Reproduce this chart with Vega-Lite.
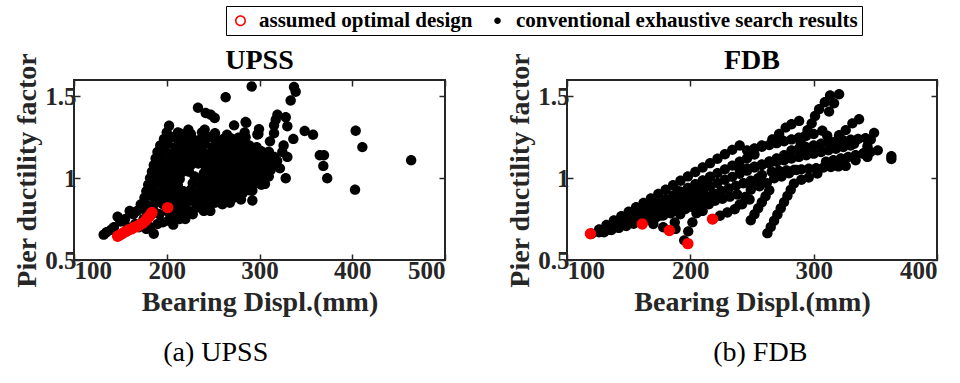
{
"$schema": "https://vega.github.io/schema/vega-lite/v6.json",
"background": "white",
"padding": {"left": 12, "top": 5, "right": 10, "bottom": 5},
"spacing": 58,
"datasets": {
"upss_b": [
{"x":132,"y":0.655},{"x":135,"y":0.67},{"x":140,"y":0.685},{"x":143,"y":0.70},{"x":147,"y":0.765},{"x":150,"y":0.735},{"x":155,"y":0.75},{"x":158,"y":0.70},{"x":160,"y":0.80},{"x":164,"y":0.78},{"x":166,"y":0.72},{"x":170,"y":0.70},{"x":172,"y":0.84},{"x":175,"y":0.75},{"x":178,"y":0.69},{"x":182,"y":0.70},{"x":186,"y":0.66},{"x":190,"y":0.72},{"x":196,"y":0.73},{"x":202,"y":0.74},{"x":207,"y":0.716},{"x":214,"y":0.75},{"x":220,"y":0.77},{"x":186,"y":0.80},{"x":192,"y":0.78},{"x":247,"y":0.80},
{"x":204,"y":0.76},{"x":212,"y":0.77},{"x":220,"y":0.75},{"x":228,"y":0.78},
{"x":168,"y":0.80},{"x":176,"y":0.81},{"x":184,"y":0.79},{"x":200,"y":0.80},{"x":208,"y":0.81},{"x":216,"y":0.79},{"x":224,"y":0.80},{"x":232,"y":0.82},{"x":240,"y":0.80},
{"x":176,"y":0.84},{"x":180,"y":0.83},{"x":188,"y":0.85},{"x":196,"y":0.84},{"x":204,"y":0.85},{"x":212,"y":0.83},{"x":220,"y":0.84},{"x":228,"y":0.86},{"x":236,"y":0.84},{"x":244,"y":0.83},{"x":252,"y":0.85},{"x":260,"y":0.84},{"x":268,"y":0.85},
{"x":176,"y":0.88},{"x":184,"y":0.89},{"x":192,"y":0.87},{"x":200,"y":0.885},{"x":208,"y":0.875},{"x":216,"y":0.88},{"x":224,"y":0.89},{"x":232,"y":0.87},{"x":240,"y":0.88},{"x":248,"y":0.885},{"x":256,"y":0.875},{"x":264,"y":0.89},{"x":272,"y":0.88},{"x":280,"y":0.87},
{"x":178,"y":0.92},{"x":186,"y":0.93},{"x":194,"y":0.91},{"x":202,"y":0.925},{"x":210,"y":0.915},{"x":218,"y":0.92},{"x":226,"y":0.93},{"x":234,"y":0.91},{"x":242,"y":0.92},{"x":250,"y":0.925},{"x":258,"y":0.915},{"x":266,"y":0.93},{"x":274,"y":0.92},{"x":282,"y":0.91},{"x":290,"y":0.925},
{"x":180,"y":0.96},{"x":188,"y":0.97},{"x":196,"y":0.95},{"x":204,"y":0.965},{"x":212,"y":0.955},{"x":228,"y":0.97},{"x":236,"y":0.95},{"x":244,"y":0.96},{"x":252,"y":0.965},{"x":260,"y":0.955},{"x":268,"y":0.97},{"x":276,"y":0.96},{"x":284,"y":0.95},{"x":294,"y":0.965},{"x":302,"y":0.96},
{"x":182,"y":1.0},{"x":190,"y":1.01},{"x":198,"y":0.99},{"x":206,"y":1.005},{"x":214,"y":0.995},{"x":230,"y":1.01},{"x":238,"y":0.99},{"x":246,"y":1.0},{"x":254,"y":1.005},{"x":262,"y":0.995},{"x":270,"y":1.01},{"x":278,"y":1.0},{"x":286,"y":0.99},{"x":294,"y":1.005},{"x":302,"y":1.0},{"x":310,"y":1.01},
{"x":184,"y":1.04},{"x":192,"y":1.05},{"x":200,"y":1.03},{"x":208,"y":1.045},{"x":216,"y":1.035},{"x":224,"y":1.04},{"x":240,"y":1.03},{"x":248,"y":1.04},{"x":256,"y":1.045},{"x":264,"y":1.035},{"x":272,"y":1.05},{"x":280,"y":1.04},{"x":288,"y":1.03},{"x":296,"y":1.045},{"x":304,"y":1.04},{"x":312,"y":1.05},
{"x":186,"y":1.08},{"x":194,"y":1.09},{"x":202,"y":1.07},{"x":210,"y":1.085},{"x":218,"y":1.075},{"x":226,"y":1.08},{"x":234,"y":1.09},{"x":242,"y":1.07},{"x":250,"y":1.08},{"x":258,"y":1.085},{"x":266,"y":1.075},{"x":274,"y":1.09},{"x":282,"y":1.08},{"x":290,"y":1.07},{"x":298,"y":1.085},{"x":306,"y":1.08},{"x":314,"y":1.09},
{"x":188,"y":1.12},{"x":196,"y":1.13},{"x":204,"y":1.11},{"x":212,"y":1.125},{"x":220,"y":1.115},{"x":228,"y":1.12},{"x":236,"y":1.13},{"x":244,"y":1.11},{"x":252,"y":1.12},{"x":260,"y":1.125},{"x":268,"y":1.115},{"x":276,"y":1.13},{"x":284,"y":1.12},{"x":292,"y":1.11},{"x":300,"y":1.125},{"x":308,"y":1.12},{"x":316,"y":1.13},
{"x":190,"y":1.16},{"x":198,"y":1.17},{"x":206,"y":1.15},{"x":214,"y":1.165},{"x":222,"y":1.155},{"x":230,"y":1.16},{"x":238,"y":1.17},{"x":246,"y":1.15},{"x":254,"y":1.16},{"x":262,"y":1.165},{"x":270,"y":1.155},{"x":278,"y":1.17},{"x":286,"y":1.16},{"x":294,"y":1.15},{"x":302,"y":1.165},{"x":310,"y":1.16},
{"x":193,"y":1.2},{"x":201,"y":1.21},{"x":209,"y":1.19},{"x":217,"y":1.205},{"x":225,"y":1.195},{"x":233,"y":1.2},{"x":241,"y":1.21},{"x":249,"y":1.19},{"x":257,"y":1.2},{"x":265,"y":1.205},{"x":273,"y":1.195},{"x":281,"y":1.21},{"x":289,"y":1.2},{"x":297,"y":1.19},
{"x":197,"y":1.24},{"x":205,"y":1.25},{"x":213,"y":1.23},{"x":221,"y":1.245},{"x":229,"y":1.235},{"x":237,"y":1.24},{"x":245,"y":1.25},{"x":253,"y":1.23},{"x":261,"y":1.24},{"x":269,"y":1.245},{"x":277,"y":1.235},{"x":285,"y":1.25},
{"x":200,"y":1.28},{"x":212,"y":1.28},{"x":226,"y":1.27},{"x":238,"y":1.28},{"x":252,"y":1.275},{"x":265,"y":1.266},{"x":284,"y":1.28},
{"x":291.6,"y":1.56},{"x":263.5,"y":1.495},{"x":233.7,"y":1.43},{"x":242,"y":1.398},{"x":247.4,"y":1.388},{"x":251.7,"y":1.368},{"x":285.8,"y":1.338},{"x":272.6,"y":1.323},{"x":202.5,"y":1.321},{"x":223.3,"y":1.297},{"x":240.9,"y":1.297},{"x":215,"y":1.272},{"x":277.2,"y":1.248},
{"x":337.2,"y":1.557},{"x":339,"y":1.528},{"x":333.6,"y":1.475},{"x":319.3,"y":1.388},{"x":317.5,"y":1.357},{"x":328.3,"y":1.372},{"x":330,"y":1.317},{"x":315.7,"y":1.323},{"x":298.8,"y":1.27},{"x":299.5,"y":1.3},{"x":315.7,"y":1.275},{"x":311.3,"y":1.225},{"x":348.7,"y":1.288},{"x":357.7,"y":1.265},{"x":336.5,"y":1.24},
{"x":403.7,"y":1.29},{"x":410.9,"y":1.19},{"x":463.5,"y":1.11},{"x":365,"y":1.14},{"x":369.5,"y":1.14},{"x":368.8,"y":1.075},{"x":373,"y":1.0},{"x":403,"y":0.93},{"x":328.3,"y":1.0},{"x":305.9,"y":0.965},{"x":292.3,"y":0.925},{"x":292.3,"y":0.864},{"x":330,"y":1.13},{"x":324.6,"y":1.16},{"x":319,"y":1.105},{"x":310,"y":1.16},{"x":307.7,"y":1.10},{"x":285,"y":1.344},{"x":297.7,"y":1.267},{"x":283,"y":1.19},{"x":322,"y":1.06},{"x":326,"y":1.2}
],
"upss_r": [
{"x":147,"y":0.645},{"x":150,"y":0.655},{"x":153,"y":0.665},{"x":156,"y":0.675},{"x":159,"y":0.685},{"x":162,"y":0.69},{"x":165,"y":0.70},{"x":168,"y":0.705},{"x":171,"y":0.715},{"x":174,"y":0.725},{"x":177,"y":0.74},{"x":179,"y":0.755},{"x":181,"y":0.765},{"x":183,"y":0.78},{"x":184,"y":0.79},{"x":201,"y":0.82}
],
"fdb_b": [
{"x":120,"y":0.66},{"x":126,"y":0.687},{"x":132,"y":0.714},{"x":138,"y":0.741},{"x":144,"y":0.768},{"x":150,"y":0.795},{"x":156,"y":0.822},{"x":162,"y":0.849},{"x":168,"y":0.876},{"x":174,"y":0.903},{"x":180,"y":0.93},{"x":186,"y":0.957},{"x":192,"y":0.984},{"x":198,"y":1.011},{"x":204,"y":1.038},{"x":210,"y":1.065},{"x":216,"y":1.092},{"x":222,"y":1.119},{"x":228,"y":1.146},{"x":234,"y":1.173},{"x":240,"y":1.2},
{"x":132,"y":0.69},{"x":138,"y":0.713},{"x":144,"y":0.736},{"x":150,"y":0.758},{"x":156,"y":0.781},{"x":162,"y":0.804},{"x":168,"y":0.827},{"x":174,"y":0.849},{"x":180,"y":0.872},{"x":186,"y":0.895},{"x":192,"y":0.918},{"x":198,"y":0.94},{"x":204,"y":0.963},{"x":210,"y":0.986},{"x":216,"y":1.009},{"x":222,"y":1.031},{"x":228,"y":1.054},{"x":234,"y":1.077},{"x":240,"y":1.1},{"x":246,"y":1.122},{"x":252,"y":1.145},
{"x":126,"y":0.67},{"x":132,"y":0.689},{"x":138,"y":0.708},{"x":144,"y":0.726},{"x":150,"y":0.745},{"x":156,"y":0.764},{"x":162,"y":0.783},{"x":168,"y":0.802},{"x":174,"y":0.82},{"x":180,"y":0.839},{"x":186,"y":0.858},{"x":192,"y":0.877},{"x":198,"y":0.896},{"x":204,"y":0.914},{"x":210,"y":0.933},{"x":216,"y":0.952},{"x":222,"y":0.971},{"x":228,"y":0.99},{"x":234,"y":1.008},{"x":240,"y":1.027},{"x":246,"y":1.046},{"x":252,"y":1.065},{"x":258,"y":1.084},{"x":264,"y":1.102},{"x":270,"y":1.121},{"x":276,"y":1.14},
{"x":135,"y":0.685},{"x":141,"y":0.701},{"x":147,"y":0.717},{"x":153,"y":0.732},{"x":159,"y":0.748},{"x":165,"y":0.764},{"x":171,"y":0.78},{"x":177,"y":0.795},{"x":183,"y":0.811},{"x":189,"y":0.827},{"x":195,"y":0.843},{"x":201,"y":0.858},{"x":207,"y":0.874},{"x":213,"y":0.89},{"x":219,"y":0.906},{"x":225,"y":0.921},{"x":231,"y":0.937},{"x":237,"y":0.953},{"x":243,"y":0.969},{"x":249,"y":0.984},{"x":255,"y":1.0},
{"x":130,"y":0.67},{"x":136,"y":0.683},{"x":142,"y":0.696},{"x":148,"y":0.708},{"x":154,"y":0.721},{"x":160,"y":0.734},{"x":166,"y":0.747},{"x":172,"y":0.759},{"x":178,"y":0.772},{"x":184,"y":0.785},{"x":190,"y":0.798},{"x":196,"y":0.811},{"x":202,"y":0.823},{"x":208,"y":0.836},{"x":214,"y":0.849},{"x":220,"y":0.862},{"x":226,"y":0.874},{"x":232,"y":0.887},{"x":238,"y":0.9},
{"x":183,"y":0.68},{"x":187.4,"y":0.73},{"x":191.8,"y":0.78},{"x":196.2,"y":0.83},{"x":200.6,"y":0.88},{"x":205,"y":0.93},
{"x":195,"y":0.62},{"x":198.3,"y":0.675},{"x":201.7,"y":0.73},{"x":205,"y":0.785},{"x":208.3,"y":0.84},{"x":211.7,"y":0.895},{"x":215,"y":0.95},
{"x":170,"y":0.72},{"x":175,"y":0.77},{"x":180,"y":0.82},{"x":185,"y":0.87},{"x":190,"y":0.92},{"x":178,"y":0.70},{"x":188,"y":0.69},
{"x":218,"y":0.75},{"x":224,"y":0.77},{"x":230,"y":0.79},{"x":236,"y":0.81},{"x":242,"y":0.84},{"x":248,"y":0.87},
{"x":210,"y":0.80},{"x":215,"y":0.84},{"x":220,"y":0.88},{"x":225,"y":0.92},
{"x":240,"y":0.84},{"x":244.5,"y":0.885},{"x":249,"y":0.93},{"x":253.5,"y":0.975},{"x":258,"y":1.02},
{"x":249,"y":0.743},{"x":252,"y":0.78},{"x":255,"y":0.816},{"x":258,"y":0.853},{"x":261,"y":0.89},{"x":264,"y":0.926},
{"x":262.5,"y":0.664},{"x":265.2,"y":0.702},{"x":267.9,"y":0.74},{"x":270.6,"y":0.778},{"x":273.3,"y":0.816},{"x":276,"y":0.854},{"x":278.7,"y":0.892},{"x":281.4,"y":0.93},{"x":284,"y":0.967},{"x":290,"y":0.99},{"x":296,"y":1.004},{"x":303,"y":1.029},
{"x":256,"y":0.95},{"x":262,"y":0.97},{"x":268,"y":1.0},{"x":274,"y":1.01},{"x":280,"y":1.03},{"x":286,"y":1.05},
{"x":240,"y":1.05},{"x":246,"y":1.06},{"x":252,"y":1.07},{"x":258,"y":1.08},{"x":264,"y":1.09},{"x":270,"y":1.10},{"x":276,"y":1.11},{"x":282,"y":1.12},{"x":288,"y":1.13},{"x":294,"y":1.14},{"x":300,"y":1.15},{"x":306,"y":1.16},{"x":312,"y":1.17},{"x":318,"y":1.18},{"x":324,"y":1.19},{"x":330,"y":1.2},
{"x":246,"y":1.17},{"x":252,"y":1.181},{"x":258,"y":1.192},{"x":264,"y":1.203},{"x":270,"y":1.214},{"x":276,"y":1.226},{"x":282,"y":1.237},{"x":288,"y":1.248},{"x":294,"y":1.259},{"x":300,"y":1.27},
{"x":266,"y":1.04},{"x":272,"y":1.044},{"x":278,"y":1.047},{"x":284,"y":1.051},{"x":290,"y":1.054},{"x":296,"y":1.058},{"x":302,"y":1.061},{"x":308,"y":1.065},{"x":314,"y":1.068},{"x":320,"y":1.072},{"x":326,"y":1.075},
{"x":282,"y":1.17},{"x":288,"y":1.18},{"x":294,"y":1.19},{"x":300,"y":1.2},{"x":306,"y":1.21},{"x":312,"y":1.22},{"x":318,"y":1.225},{"x":324,"y":1.23},{"x":330,"y":1.235},{"x":336,"y":1.24},{"x":342,"y":1.245},
{"x":310,"y":1.1},{"x":316,"y":1.11},{"x":322,"y":1.12},{"x":328,"y":1.13},{"x":334,"y":1.14},{"x":340,"y":1.15},{"x":346,"y":1.16},{"x":352,"y":1.17},
{"x":289.5,"y":1.213},{"x":292.2,"y":1.253},{"x":295,"y":1.294},{"x":298.4,"y":1.335},{"x":301.1,"y":1.38},{"x":304.4,"y":1.421},{"x":309,"y":1.464},{"x":313.3,"y":1.505},
{"x":312.5,"y":1.407},{"x":316.5,"y":1.458},{"x":320.6,"y":1.513},
{"x":288.2,"y":1.35},{"x":277.3,"y":1.309},{"x":282,"y":1.33},{"x":266.5,"y":1.237},{"x":273,"y":1.24},{"x":272,"y":1.27},{"x":258,"y":1.2},{"x":307,"y":1.29},{"x":311,"y":1.26},
{"x":313.8,"y":1.222},{"x":320.6,"y":1.263},{"x":326,"y":1.294},{"x":331.4,"y":1.335},{"x":336.8,"y":1.36},
{"x":340.9,"y":1.154},{"x":343.6,"y":1.195},{"x":346.3,"y":1.236},{"x":349,"y":1.277},
{"x":334,"y":1.11},{"x":343.6,"y":1.13},{"x":332.8,"y":1.21},
{"x":363,"y":1.117},{"x":363,"y":1.135}
],
"fdb_r": [
{"x":119,"y":0.66},{"x":161,"y":0.72},{"x":183,"y":0.68},{"x":198,"y":0.60},{"x":218,"y":0.75}
]
},
"hconcat": [
{
"title": {"text": "(a) UPSS", "orient": "bottom", "anchor": "middle", "dx": -14, "fontWeight": "normal", "fontSize": 28, "offset": 22},
"vconcat": [
{
"width": 371, "height": 180,
"title": {"text": "UPSS", "offset": -22},
"layer": [
{"data": {"name": "upss_b"}, "mark": {"type": "point", "filled": true, "size": 300, "opacity": 1},
"encoding": {
"x": {"field": "x", "type": "quantitative", "scale": {"domain": [100, 500], "nice": false, "zero": false}, "axis": {"orient": "bottom", "values": [100, 200, 300, 400, 500], "title": "Bearing Displ.(mm)"}},
"y": {"field": "y", "type": "quantitative", "scale": {"domain": [0.5, 1.6], "nice": false, "zero": false}, "axis": {"orient": "left", "values": [0.5, 1, 1.5], "format": "~g", "title": "Pier ductility factor", "titlePadding": 3}},
"color": {"datum": "conventional exhaustive search results", "type": "nominal", "scale": {"domain": ["assumed optimal design", "conventional exhaustive search results"], "range": ["#ff0000", "#000000"]}, "legend": {"title": null}},
"shape": {"datum": "conventional exhaustive search results", "type": "nominal", "scale": {"domain": ["assumed optimal design", "conventional exhaustive search results"], "range": ["M 1 0 A 1 1 0 1 1 -1 0 A 1 1 0 1 1 1 0 Z M 0.72 0 A 0.72 0.72 0 1 0 -0.72 0 A 0.72 0.72 0 1 0 0.72 0 Z", "M 0.6 0 A 0.6 0.6 0 1 1 -0.6 0 A 0.6 0.6 0 1 1 0.6 0 Z"]}, "legend": {"title": null}}
}},
{"data": {"name": "upss_r"}, "mark": {"type": "circle", "size": 130, "opacity": 1},
"encoding": {
"x": {"field": "x", "type": "quantitative", "scale": {"domain": [100, 500], "nice": false, "zero": false}, "axis": {"orient": "top", "values": [100, 200, 300, 400, 500], "labels": false, "title": null}},
"y": {"field": "y", "type": "quantitative", "scale": {"domain": [0.5, 1.6], "nice": false, "zero": false}, "axis": {"orient": "right", "values": [0.5, 1, 1.5], "labels": false, "title": null}},
"color": {"datum": "assumed optimal design", "type": "nominal", "legend": {"title": null}}
}},
{"data": {"name": "upss_r"}, "mark": {"type": "point", "filled": true, "size": 100, "opacity": 1},
"encoding": {
"x": {"field": "x", "type": "quantitative", "scale": {"domain": [100, 500], "nice": false, "zero": false}, "axis": null},
"y": {"field": "y", "type": "quantitative", "scale": {"domain": [0.5, 1.6], "nice": false, "zero": false}, "axis": null},
"color": {"datum": "assumed optimal design", "type": "nominal", "legend": {"title": null}},
"shape": {"datum": "assumed optimal design", "type": "nominal", "legend": {"title": null}}
}}
],
"resolve": {"scale": {"x": "independent", "y": "independent"}, "axis": {"x": "independent", "y": "independent"}}
}
]
},
{
"title": {"text": "(b) FDB", "orient": "bottom", "anchor": "middle", "dx": 38, "fontWeight": "normal", "fontSize": 28, "offset": 22},
"vconcat": [
{
"width": 370, "height": 180,
"title": {"text": "FDB", "offset": -22},
"layer": [
{"data": {"name": "fdb_b"}, "mark": {"type": "point", "filled": true, "size": 300, "opacity": 1},
"encoding": {
"x": {"field": "x", "type": "quantitative", "scale": {"domain": [100, 400], "nice": false, "zero": false}, "axis": {"orient": "bottom", "values": [100, 200, 300, 400], "title": "Bearing Displ.(mm)"}},
"y": {"field": "y", "type": "quantitative", "scale": {"domain": [0.5, 1.6], "nice": false, "zero": false}, "axis": {"orient": "left", "values": [0.5, 1, 1.5], "format": "~g", "title": "Pier ductility factor", "titlePadding": 3}},
"color": {"datum": "conventional exhaustive search results", "type": "nominal", "legend": {"title": null}},
"shape": {"datum": "conventional exhaustive search results", "type": "nominal", "legend": {"title": null}}
}},
{"data": {"name": "fdb_r"}, "mark": {"type": "circle", "size": 130, "opacity": 1},
"encoding": {
"x": {"field": "x", "type": "quantitative", "scale": {"domain": [100, 400], "nice": false, "zero": false}, "axis": {"orient": "top", "values": [100, 200, 300, 400], "labels": false, "title": null}},
"y": {"field": "y", "type": "quantitative", "scale": {"domain": [0.5, 1.6], "nice": false, "zero": false}, "axis": {"orient": "right", "values": [0.5, 1, 1.5], "labels": false, "title": null}},
"color": {"datum": "assumed optimal design", "type": "nominal", "legend": {"title": null}}
}},
{"data": {"name": "fdb_r"}, "mark": {"type": "point", "filled": true, "size": 100, "opacity": 1},
"encoding": {
"x": {"field": "x", "type": "quantitative", "scale": {"domain": [100, 400], "nice": false, "zero": false}, "axis": null},
"y": {"field": "y", "type": "quantitative", "scale": {"domain": [0.5, 1.6], "nice": false, "zero": false}, "axis": null},
"color": {"datum": "assumed optimal design", "type": "nominal", "legend": {"title": null}},
"shape": {"datum": "assumed optimal design", "type": "nominal", "legend": {"title": null}}
}}
],
"resolve": {"scale": {"x": "independent", "y": "independent"}, "axis": {"x": "independent", "y": "independent"}}
}
]
}
],
"config": {
"font": "Liberation Serif",
"view": {"stroke": "#262626", "strokeWidth": 2},
"axis": {"labelFont": "Liberation Serif", "labelFontWeight": "bold", "labelFontSize": 25, "labelColor": "#262626", "titleFont": "Liberation Serif", "titleFontWeight": "bold", "titleFontSize": 28, "titleColor": "#262626", "grid": false, "domain": false, "tickColor": "#262626", "tickWidth": 1.5, "tickSize": -6, "labelPadding": 4, "titlePadding": 5},
"title": {"font": "Liberation Serif", "fontWeight": "bold", "fontSize": 28, "color": "black"},
"legend": {"orient": "none", "legendX": 152, "legendY": -74, "direction": "horizontal", "strokeColor": "black", "fillColor": "white", "padding": 4, "labelFont": "Liberation Serif", "labelFontWeight": "bold", "labelFontSize": 21, "labelColor": "black", "labelLimit": 0, "columnPadding": 14, "labelOffset": 8, "symbolSize": 121, "symbolStrokeWidth": 0}
}
}
